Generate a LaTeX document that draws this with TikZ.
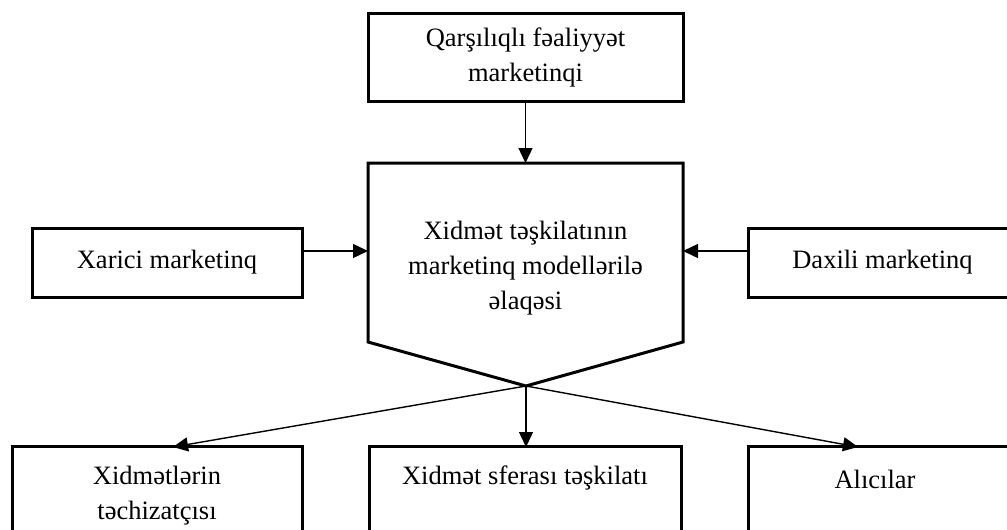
\documentclass[tikz,border=0pt]{standalone}
\usepackage{fontspec}
\setmainfont{Liberation Serif}
\usetikzlibrary{arrows.meta}
\begin{document}
\begin{tikzpicture}[x=1pt,y=-1pt,
  frame/.style={draw,line width=3pt,inner sep=0pt},
  lbl/.style={font=\fontsize{26.5}{35}\selectfont,align=center,inner sep=0pt},
  arr/.style={-{Triangle[length=15pt,width=14pt]},line width=1.4pt}]
\useasboundingbox (0,0) rectangle (1007,530);
\clip (0,0) rectangle (1007,530);

% top box
\node[frame,lbl,minimum width=315pt,minimum height=88pt] (top) at (525.5,57)
  {Qarşılıqlı fəaliyyət\\marketinqi};

% side boxes
\node[frame,lbl,minimum width=270pt,minimum height=69pt] (ext) at (167,262.5)
  {Xarici marketinq};
\node[frame,lbl,minimum width=269pt,minimum height=69pt] (int) at (882.5,262.5)
  {Daxili marketinq};

% central pentagon
\coordinate (ptop) at (525.5,163);
\coordinate (pl) at (368,251);
\coordinate (pr) at (683,251);
\coordinate (apex) at (526,386);
\draw[line width=3pt,line join=miter]
  (368,163) -- (683,163) -- (683,342) -- (apex) -- (368,342) -- cycle;
\node[lbl] (core) at (525.5,268)
  {Xidmət təşkilatının\\marketinq modellərilə\\əlaqəsi};

% bottom boxes (run past the lower edge)
\node[frame,minimum width=290pt,minimum height=114pt] (sup) at (157,503) {};
\node[frame,minimum width=312pt,minimum height=114pt] (org) at (525,503) {};
\node[frame,minimum width=290pt,minimum height=114pt] (buy) at (893,503) {};
\node[lbl] (suptxt) at (157,496) {Xidmətlərin\\təchizatçısı};
\node[lbl] (orgtxt) at (525,478) {Xidmət sferası təşkilatı};
\node[lbl] (buytxt) at (875,479) {Alıcılar};

\coordinate (supin) at (173,447);
\coordinate (orgin) at (526,447);
\coordinate (buyin) at (858,447);

% connectors
\draw[arr] (top.south) -- (ptop);
\draw[arr] (ext.east |- pl) -- (pl);
\draw[arr] (int.west |- pr) -- (pr);
\draw[arr] (apex) -- (supin);
\draw[arr] (apex) -- (orgin);
\draw[arr] (apex) -- (buyin);
\end{tikzpicture}
\end{document}
